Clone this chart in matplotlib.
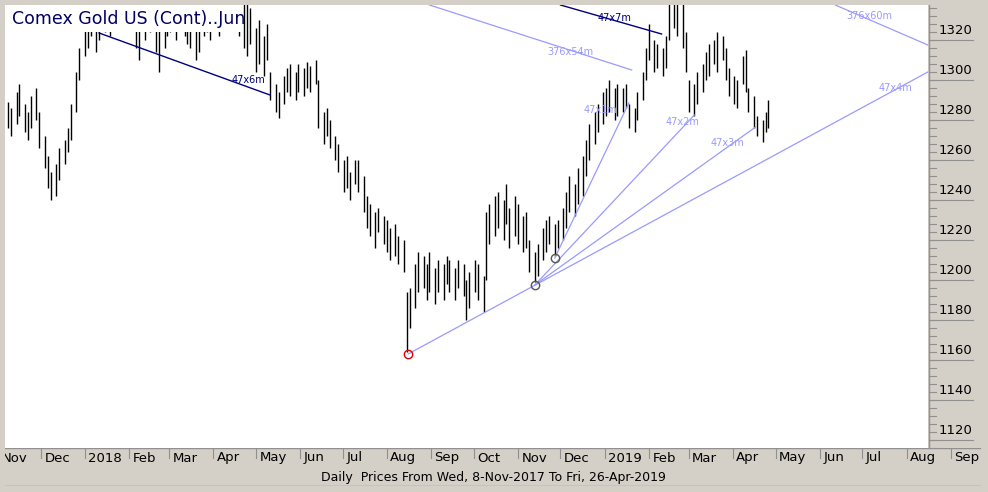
import matplotlib
matplotlib.use("Agg")
import matplotlib.pyplot as plt
import matplotlib.dates as mdates
import matplotlib.patches as mpatches
import numpy as np
import pandas as pd

title = "Comex Gold US (Cont)..Jun"
footer = "Daily  Prices From Wed, 8-Nov-2017 To Fri, 26-Apr-2019"

bar_dates = pd.bdate_range("2017-11-08", "2019-04-26")[::2]
bars = [
 (1272,1285),(1268,1282),(1274,1290),(1278,1294),(1270,1284),(1266,1280),(1272,1288),(1276,1292),
 (1262,1280),(1252,1268),(1242,1258),(1236,1250),
 (1238,1254),(1246,1262),(1254,1266),(1260,1272),(1266,1284),(1280,1300),(1296,1312),
 (1308,1330),(1312,1332),(1318,1336),(1310,1334),(1316,1338),
 (1320,1342),(1322,1345),(1318,1348),(1326,1352),(1330,1358),(1334,1362),(1328,1356),(1322,1350),
 (1312,1336),(1306,1330),(1316,1340),(1322,1346),(1320,1344),(1310,1336),(1300,1326),(1312,1334),
 (1318,1340),(1320,1342),(1316,1338),(1322,1346),(1318,1342),(1314,1338),(1312,1334),(1306,1330),
 (1310,1334),(1318,1342),(1320,1344),(1316,1338),(1322,1346),(1318,1340),(1324,1348),(1322,1346),
 (1326,1350),(1322,1346),(1318,1342),(1312,1338),
 (1308,1336),(1314,1332),(1300,1322),(1304,1326),(1298,1318),(1306,1324),
 (1286,1300),(1280,1294),(1277,1290),(1284,1298),
 (1290,1302),(1288,1304),(1286,1300),(1290,1304),(1288,1302),(1292,1305),(1290,1303),(1294,1306),
 (1272,1296),(1264,1280),(1268,1282),(1262,1276),
 (1256,1268),(1250,1264),(1240,1256),(1242,1258),(1236,1250),
 (1244,1256),(1240,1256),(1230,1248),(1222,1238),
 (1218,1234),(1212,1230),(1220,1232),(1214,1228),(1210,1226),(1206,1222),(1208,1224),(1204,1218),(1200,1216),
 (1160,1190),
 (1172,1192),(1182,1204),(1190,1210),(1192,1208),(1186,1204),(1190,1210),(1184,1202),
 (1190,1206),(1186,1204),(1194,1208),(1190,1206),(1186,1202),(1192,1206),(1188,1204),
 (1176,1196),(1182,1200),(1190,1206),(1186,1204),(1180,1198),
 (1196,1230),(1214,1234),(1218,1238),(1222,1240),(1216,1236),(1224,1244),(1212,1232),
 (1218,1238),(1214,1234),(1210,1228),(1212,1230),
 (1200,1216),(1195,1210),(1198,1214),
 (1206,1222),(1210,1226),(1214,1228),(1208,1224),(1212,1226),
 (1216,1232),(1222,1240),(1230,1248),(1228,1244),(1234,1252),
 (1238,1258),(1248,1266),(1256,1274),(1264,1280),(1270,1284),
 (1274,1290),(1278,1292),(1280,1296),(1276,1292),(1278,1294),(1280,1292),(1282,1294),
 (1272,1284),(1270,1282),(1276,1290),
 (1286,1300),
 (1296,1312),(1306,1324),(1300,1316),(1302,1314),(1298,1312),(1302,1318),
 (1316,1336),(1322,1346),(1318,1340),(1312,1334),
 (1300,1320),(1280,1296),(1278,1294),(1284,1300),
 (1290,1304),(1296,1310),(1298,1314),(1304,1316),(1300,1320),(1306,1318),
 (1296,1312),(1288,1302),(1284,1298),(1282,1296),
 (1294,1308),(1290,1311),
 (1280,1292),(1272,1288),
 (1268,1278),(1265,1276),(1270,1280),(1272,1286),
]
n = min(len(bars), len(bar_dates))
lows = [b[0] for b in bars[:n]]
highs = [b[1] for b in bars[:n]]
xdates = mdates.date2num(bar_dates[:n].to_pydatetime())

# trend lines: start date, start price, end date, end price, label, label date, label price
dark_lines = [
    ("2018-01-11", 1319.5, "2018-05-11", 1288.5, "47x6m", "2018-04-26", 1296),
    ("2018-12-01", 1333.5, "2019-02-10", 1319.0, "47x7m", "2019-01-08", 1327),
]
light_lines = [
    ("2018-08-31", 1333.5, "2019-01-20", 1301.0, "376x54m", "2018-12-08", 1310),
    ("2019-06-12", 1333.5, "2019-08-16", 1313.5, "376x60m", "2019-07-06", 1328),
    ("2018-08-16", 1159.0, "2019-08-16", 1300.0, "47x4m", "2019-07-24", 1292),
    ("2018-11-13", 1193.5, "2019-04-17", 1272.5, "47x3m", "2019-03-28", 1264.5),
    ("2018-11-13", 1193.5, "2019-03-05", 1278.5, "47x2m", "2019-02-25", 1275),
    ("2018-11-27", 1207.0, "2019-01-18", 1284.5, "47x1m", "2018-12-29", 1281),
]
circles = [("2018-08-16", 1159.0, "#dd0000"), ("2018-11-13", 1193.5, "#555555"), ("2018-11-27", 1207.0, "#555555")]
price_ticks = list(range(1120, 1321, 20))
months = pd.date_range("2017-11-01", "2019-09-01", freq="MS")

W, H = 988, 492
GRAY = "#d4d0c8"
base = mdates.date2num(pd.Timestamp("2017-11-01").to_pydatetime())
ppd = 1.424
def px2d(px):
    return base + (px + 2) / ppd
def d(s):
    return mdates.date2num(pd.Timestamp(s).to_pydatetime())

fig = plt.figure(figsize=(W/100, H/100), dpi=100, facecolor=GRAY)
def box(x0, y0, x1, y1):
    return [x0/W, 1 - y1/H, (x1-x0)/W, (y1-y0)/H]

ax = fig.add_axes(box(5, 5, 928, 448))
ax.set_facecolor("white")
ymin, ymax = 1112, 1333.5
ax.set_xlim(px2d(5), px2d(928)); ax.set_ylim(ymin, ymax)
ax.vlines(xdates, lows, highs, color="black", lw=1.0)
for s0, p0, s1, p1, lab, ld, lp in dark_lines:
    ax.plot([d(s0), d(s1)], [p0, p1], color="#000080", lw=1)
    ax.text(d(ld), lp, lab, color="#000080", fontsize=7, ha="center", va="center")
for s0, p0, s1, p1, lab, ld, lp in light_lines:
    ax.plot([d(s0), d(s1)], [p0, p1], color="#9a9aff", lw=0.9)
    ax.text(d(ld), lp, lab, color="#9a9aff", fontsize=7, ha="center", va="center")
for s, p, c in circles:
    ax.plot(d(s), p, "o", ms=6, mfc="none", mec=c, mew=1)
ax.set_xticks([]); ax.set_yticks([])
for sp in ax.spines.values():
    sp.set_visible(False)
# title panel (white box hiding the bars behind it)
fig.patches.append(mpatches.Rectangle((5/W, 1 - 32/H), 238/W, 27/H, transform=fig.transFigure,
                                      facecolor="white", edgecolor="none", zorder=5))
fig.text(12/W, 1 - 19/H, title, fontsize=12.5, color="#000060", va="center", ha="left", zorder=6)

pa = fig.add_axes(box(928, 5, 981, 448))
pa.set_facecolor(GRAY); pa.set_xlim(0, 53); pa.set_ylim(ymin, ymax)
pa.set_xticks([]); pa.set_yticks([])
for sp in pa.spines.values():
    sp.set_visible(False)
pa.axvline(1, color="#909090", lw=1)
for v in np.arange(1112, 1334, 4):
    pa.plot([1, 8], [v, v], color="#909090", lw=0.8)
for v in price_ticks:
    pa.text(11, v + 1, str(v), fontsize=9.5, va="center", ha="left", color="black")
    pa.plot([1, 45], [v - 4, v - 4], color="#909090", lw=0.8)

da = fig.add_axes(box(5, 448, 981, 486))
da.set_facecolor(GRAY); da.set_xlim(px2d(5), px2d(981)); da.set_ylim(0, 38)
da.set_xticks([]); da.set_yticks([])
for sp in da.spines.values():
    sp.set_visible(False)
da.axhline(38, color="#909090", lw=1)
da.axhline(0.5, color="#909090", lw=1)
for m in months:
    x = mdates.date2num(m.to_pydatetime())
    da.plot([x, x], [38, 28], color="#909090", lw=0.8)
    lab = str(m.year) if m.month == 1 else m.strftime("%b")
    da.text(x + 2.5, 28, lab, fontsize=9.5, va="center", ha="left", clip_on=True)
da.text(0.5, 8, footer, transform=da.get_yaxis_transform(), fontsize=9, ha="center", va="center")

fig.savefig("out.png", dpi=100, facecolor=GRAY)
